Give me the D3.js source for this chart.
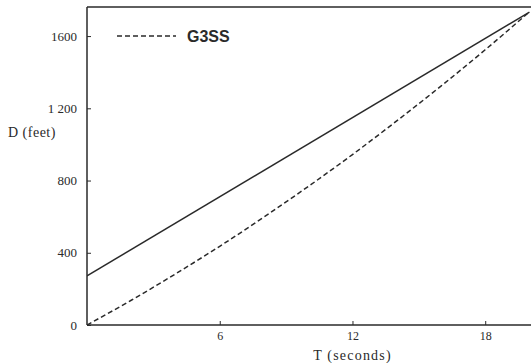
<!DOCTYPE html>
<html>
<head>
<meta charset="utf-8">
<script src="https://cdn.jsdelivr.net/npm/d3@7/dist/d3.min.js"></script>
<style>
  body { margin: 0; background: #fff; }
  svg { display: block; }
</style>
</head>
<body>
<svg id="chart" width="531" height="363"></svg>
<script>
// values
let solidT = [0, 20];
let solidD = [272, 1733];

let dashT = [0, 2, 4, 6, 8, 10, 12, 14, 16, 18, 20];
let dashD = [0, 137, 283, 436, 598, 767, 944, 1130, 1323, 1524, 1734];

let xTicks = [6, 12, 18];
let yTicks = [0, 400, 800, 1200, 1600];
let yTickLabels = ['0', '400', '800', '1 200', '1600'];

let legendLabel = 'G3SS';

let margin = {left: 87, top: 7, bottom: 38};
let width = 531, height = 363;

let svg = d3.select('#chart');
let ink = '#2a2a2a';
let serif = 'Liberation Serif, DejaVu Serif, serif';

let sx = d3.scaleLinear().domain([0, 20.07]).range([margin.left, width]);
let sy = d3.scaleLinear().domain([0, 1761]).range([height - margin.bottom, margin.top]);

// frame: left, bottom, top
svg.append('line')
  .attr('x1', sx(0)).attr('y1', sy(0)).attr('x2', sx(0)).attr('y2', margin.top)
  .attr('stroke', ink).attr('stroke-width', 1.5);
svg.append('line')
  .attr('x1', sx(0)).attr('y1', sy(0)).attr('x2', width).attr('y2', sy(0))
  .attr('stroke', ink).attr('stroke-width', 1.5);
svg.append('line')
  .attr('x1', sx(0)).attr('y1', margin.top).attr('x2', width).attr('y2', margin.top)
  .attr('stroke', ink).attr('stroke-width', 1.5);

// x axis ticks
let xAxis = d3.axisBottom(sx).tickValues(xTicks).tickSize(-4).tickPadding(6);
let gx = svg.append('g').attr('transform', 'translate(0,' + sy(0) + ')').call(xAxis);
gx.select('.domain').remove();
gx.selectAll('line').attr('stroke', ink).attr('stroke-width', 1);
gx.selectAll('text')
  .attr('font-family', serif)
  .attr('font-size', 12).attr('fill', ink);

// y axis ticks
let yAxis = d3.axisLeft(sy).tickValues(yTicks)
  .tickFormat((d, i) => yTickLabels[i]).tickSize(-4).tickPadding(10);
let gy = svg.append('g').attr('transform', 'translate(' + sx(0) + ',0)').call(yAxis);
gy.select('.domain').remove();
gy.selectAll('line').attr('stroke', ink).attr('stroke-width', 1);
gy.selectAll('text')
  .attr('font-family', serif)
  .attr('font-size', 13).attr('fill', ink);

// axis titles
svg.append('text')
  .attr('x', 8).attr('y', 137)
  .attr('font-family', serif)
  .attr('font-size', 14).attr('fill', ink)
  .attr('letter-spacing', 0.5)
  .text('D (feet)');
svg.append('text')
  .attr('x', sx(12)).attr('y', 360)
  .attr('text-anchor', 'middle')
  .attr('font-family', serif)
  .attr('font-size', 14).attr('fill', ink)
  .attr('letter-spacing', 1.2)
  .text('T (seconds)');

// curves
let line = d3.line().x(d => sx(d[0])).y(d => sy(d[1]));

svg.append('clipPath').attr('id', 'plotclip')
  .append('rect')
  .attr('x', sx(0)).attr('y', margin.top)
  .attr('width', width - sx(0)).attr('height', sy(0) - margin.top);

svg.append('path')
  .datum(solidT.map((t, i) => [t, solidD[i]]))
  .attr('clip-path', 'url(#plotclip)')
  .attr('d', line)
  .attr('fill', 'none').attr('stroke', ink).attr('stroke-width', 1.5);

svg.append('path')
  .datum(dashT.map((t, i) => [t, dashD[i]]))
  .attr('clip-path', 'url(#plotclip)')
  .attr('d', line.curve(d3.curveMonotoneX))
  .attr('fill', 'none').attr('stroke', ink).attr('stroke-width', 1.5)
  .attr('stroke-dasharray', '5,3');

// legend
svg.append('line')
  .attr('x1', 117).attr('y1', sy(1600)).attr('x2', 176).attr('y2', sy(1600))
  .attr('stroke', ink).attr('stroke-width', 1.5)
  .attr('stroke-dasharray', '5,3');
svg.append('text')
  .attr('x', 187).attr('y', sy(1600) + 6)
  .attr('font-family', 'Liberation Sans, Arial, sans-serif')
  .attr('font-weight', 'bold')
  .attr('font-size', 16).attr('fill', ink)
  .text(legendLabel);
</script>
</body>
</html>
